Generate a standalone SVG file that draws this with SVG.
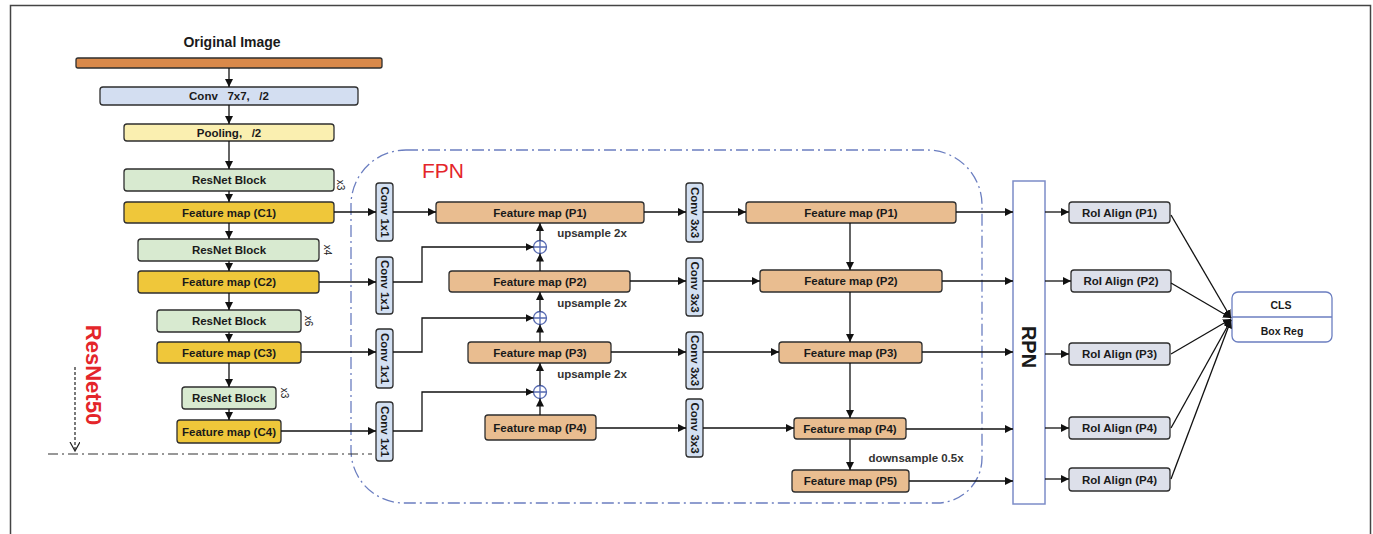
<svg xmlns="http://www.w3.org/2000/svg" width="1373" height="534" viewBox="0 0 1373 534">
<style>
text{font-family:"Liberation Sans",Arial,sans-serif;font-weight:bold;fill:#1a1a1a;text-anchor:middle;dominant-baseline:central}
.b{stroke:#2e2e2e;stroke-width:1.3}
.c7{fill:#D3DEF1}.pl{fill:#FAEFB0}.rb{fill:#D8EAD0}.fc{fill:#EFC73A}.cv{fill:#D3E0F2}.fp{fill:#E9BD90}.roi{fill:#DDE0EA}
.t{font-size:11.5px}
.pre{white-space:pre}
.s{font-size:11.5px}
.x{font-size:10px;font-weight:normal}
.hd{font-size:10.5px}
.lbl{font-size:11.5px;fill:#333}
.ln{fill:none;stroke:#111;stroke-width:1.3}
.red{fill:#E4252A;font-weight:normal}
</style>
<defs>
<marker id="ah" markerUnits="userSpaceOnUse" markerWidth="10" markerHeight="10" refX="8" refY="4" orient="auto">
<path d="M0,0 L8,4 L0,8 Z" fill="#111"/>
</marker>
<marker id="oh" markerUnits="userSpaceOnUse" markerWidth="12" markerHeight="12" refX="9" refY="5" orient="auto">
<path d="M0,0 L9,5 L0,10" fill="none" stroke="#222" stroke-width="1.2"/>
</marker>
</defs>
<rect width="1373" height="534" fill="#fff"/>
<rect x="10.5" y="5.5" width="1360" height="560" fill="none" stroke="#444" stroke-width="1.5"/>

<g id="fpn-region">
<path d="M406,150 H927 A55,55 0 0 1 982,205 V458 A45,45 0 0 1 937,503 H404 A53,53 0 0 1 351,450 V205 A55,55 0 0 1 406,150 Z" fill="none" stroke="#6B7EC0" stroke-width="1.3" stroke-dasharray="12 4 2 4"/>
<text x="443" y="170" class="red" style="font-size:21px">FPN</text>
</g>

<g id="resnet-label">
<text transform="translate(93,375) rotate(90)" class="red" style="font-size:22px;font-weight:bold">ResNet50</text>
<line x1="75" y1="367" x2="75" y2="451" stroke="#222" stroke-width="1.2" stroke-dasharray="3 2" marker-end="url(#oh)"/>
<line x1="48" y1="454" x2="372" y2="454" stroke="#333" stroke-width="1.2" stroke-dasharray="10 4 2 4"/>
</g>

<g id="original-image">
<text x="232" y="42" style="font-size:14px">Original Image</text>
<rect x="76" y="58" width="306" height="10" rx="2" fill="#D9894A" class="b"/>
</g>
<g id="conv7"><rect x="100" y="87" width="258" height="18" rx="3" class="b c7"/><text x="229" y="96" class="t pre">Conv   7x7,   /2</text></g>
<g id="pool"><rect x="124" y="124" width="210" height="17" rx="3" class="b pl"/><text x="229" y="132.5" class="t pre">Pooling,   /2</text></g>
<g id="rb1"><rect x="124" y="169" width="210" height="22" rx="3" class="b rb"/><text x="229" y="180" class="t">ResNet Block</text><text transform="translate(340,185) rotate(90)" class="x">x3</text></g>
<g id="c1"><rect x="124" y="202" width="210" height="21" rx="3" class="b fc"/><text x="229" y="212.5" class="t">Feature map (C1)</text></g>
<g id="rb2"><rect x="138" y="239" width="181" height="22" rx="3" class="b rb"/><text x="229" y="250" class="t">ResNet Block</text><text transform="translate(327,250) rotate(90)" class="x">x4</text></g>
<g id="c2"><rect x="138" y="271" width="181" height="22" rx="3" class="b fc"/><text x="229" y="282" class="t">Feature map (C2)</text></g>
<g id="rb3"><rect x="157" y="310" width="144" height="22" rx="3" class="b rb"/><text x="229" y="321" class="t">ResNet Block</text><text transform="translate(308,321) rotate(90)" class="x">x6</text></g>
<g id="c3"><rect x="157" y="342" width="144" height="21" rx="3" class="b fc"/><text x="229" y="352.5" class="t">Feature map (C3)</text></g>
<g id="rb4"><rect x="182" y="387" width="94" height="22" rx="3" class="b rb"/><text x="229" y="398" class="t">ResNet Block</text><text transform="translate(284,393) rotate(90)" class="x">x3</text></g>
<g id="c4"><rect x="177" y="420" width="104" height="23" rx="3" class="b fc"/><text x="229" y="431.5" class="t">Feature map (C4)</text></g>

<g id="conv1x1-1"><rect x="376" y="183" width="17" height="58" rx="3" class="b cv"/><text transform="translate(384.5,212) rotate(90)" class="s">Conv 1x1</text></g>
<g id="conv1x1-2"><rect x="376" y="257" width="17" height="57" rx="3" class="b cv"/><text transform="translate(384.5,285.5) rotate(90)" class="s">Conv 1x1</text></g>
<g id="conv1x1-3"><rect x="376" y="329" width="17" height="59" rx="3" class="b cv"/><text transform="translate(384.5,358.5) rotate(90)" class="s">Conv 1x1</text></g>
<g id="conv1x1-4"><rect x="376" y="402" width="17" height="59" rx="3" class="b cv"/><text transform="translate(384.5,431.5) rotate(90)" class="s">Conv 1x1</text></g>

<g id="p1a"><rect x="436" y="202" width="208" height="21" rx="3" class="b fp"/><text x="540" y="212.5" class="t">Feature map (P1)</text></g>
<g id="p2a"><rect x="449" y="271" width="181" height="21" rx="3" class="b fp"/><text x="540" y="281.5" class="t">Feature map (P2)</text></g>
<g id="p3a"><rect x="468" y="342" width="143" height="21" rx="3" class="b fp"/><text x="540" y="352.5" class="t">Feature map (P3)</text></g>
<g id="p4a"><rect x="485" y="415" width="111" height="25" rx="3" class="b fp"/><text x="540" y="427.5" class="t">Feature map (P4)</text></g>

<g id="add1"><circle cx="540" cy="247" r="6.5" fill="#fff" stroke="#5468B0" stroke-width="1.3"/><path d="M533.5,247 H546.5 M540,240.5 V253.5" stroke="#5468B0" stroke-width="1.3"/></g>
<g id="add2"><circle cx="540" cy="318" r="6.5" fill="#fff" stroke="#5468B0" stroke-width="1.3"/><path d="M533.5,318 H546.5 M540,311.5 V324.5" stroke="#5468B0" stroke-width="1.3"/></g>
<g id="add3"><circle cx="540" cy="392" r="6.5" fill="#fff" stroke="#5468B0" stroke-width="1.3"/><path d="M533.5,392 H546.5 M540,385.5 V398.5" stroke="#5468B0" stroke-width="1.3"/></g>
<text x="592" y="233" class="lbl">upsample 2x</text>
<text x="592" y="303" class="lbl">upsample 2x</text>
<text x="592" y="374" class="lbl">upsample 2x</text>

<g id="conv3x3-1"><rect x="686" y="183" width="17" height="59" rx="3" class="b cv"/><text transform="translate(694.5,212.5) rotate(90)" class="s">Conv 3x3</text></g>
<g id="conv3x3-2"><rect x="686" y="258" width="17" height="58" rx="3" class="b cv"/><text transform="translate(694.5,287) rotate(90)" class="s">Conv 3x3</text></g>
<g id="conv3x3-3"><rect x="686" y="332" width="17" height="57" rx="3" class="b cv"/><text transform="translate(694.5,360.5) rotate(90)" class="s">Conv 3x3</text></g>
<g id="conv3x3-4"><rect x="686" y="399" width="17" height="58" rx="3" class="b cv"/><text transform="translate(694.5,428) rotate(90)" class="s">Conv 3x3</text></g>

<g id="p1b"><rect x="746" y="202" width="210" height="21" rx="3" class="b fp"/><text x="851" y="212.5" class="t">Feature map (P1)</text></g>
<g id="p2b"><rect x="760" y="270" width="182" height="22" rx="3" class="b fp"/><text x="851" y="281" class="t">Feature map (P2)</text></g>
<g id="p3b"><rect x="779" y="342" width="143" height="21" rx="3" class="b fp"/><text x="850.5" y="352.5" class="t">Feature map (P3)</text></g>
<g id="p4b"><rect x="794" y="418" width="112" height="21" rx="3" class="b fp"/><text x="850" y="428.5" class="t">Feature map (P4)</text></g>
<g id="p5"><rect x="792" y="470" width="117" height="22" rx="3" class="b fp"/><text x="850.5" y="481" class="t">Feature map (P5)</text></g>
<text x="916" y="458" class="lbl">downsample 0.5x</text>

<g id="rpn"><rect x="1013" y="181" width="32" height="323" fill="#fff" stroke="#7C8CC8" stroke-width="1.5"/><text transform="translate(1029,347) rotate(90)" style="font-size:20px">RPN</text></g>

<g id="roi1"><rect x="1069" y="202" width="101" height="21" rx="3" class="b roi"/><text x="1119.5" y="212.5" class="t">RoI Align (P1)</text></g>
<g id="roi2"><rect x="1071" y="270" width="100" height="22" rx="3" class="b roi"/><text x="1121" y="281" class="t">RoI Align (P2)</text></g>
<g id="roi3"><rect x="1069" y="343" width="101" height="22" rx="3" class="b roi"/><text x="1119.5" y="354" class="t">RoI Align (P3)</text></g>
<g id="roi4"><rect x="1069" y="417" width="101" height="22" rx="3" class="b roi"/><text x="1119.5" y="428" class="t">RoI Align (P4)</text></g>
<g id="roi5"><rect x="1069" y="468" width="101" height="23" rx="3" class="b roi"/><text x="1119.5" y="479.5" class="t">RoI Align (P4)</text></g>

<g id="head"><rect x="1232" y="292" width="100" height="50" rx="6" fill="#fff" stroke="#6B7EC0" stroke-width="1.3"/><line x1="1232" y1="317" x2="1332" y2="317" stroke="#6B7EC0" stroke-width="1.3"/><text x="1281" y="305" class="hd">CLS</text><text x="1282" y="331" class="hd">Box Reg</text></g>

<g id="connectors" class="ln">
<path d="M229,68 V87" marker-end="url(#ah)"/>
<path d="M229,105 V124" marker-end="url(#ah)"/>
<path d="M229,141 V169" marker-end="url(#ah)"/>
<path d="M229,191 V202" marker-end="url(#ah)"/>
<path d="M229,223 V239" marker-end="url(#ah)"/>
<path d="M229,261 V271" marker-end="url(#ah)"/>
<path d="M229,293 V310" marker-end="url(#ah)"/>
<path d="M229,332 V342" marker-end="url(#ah)"/>
<path d="M229,363 V387" marker-end="url(#ah)"/>
<path d="M229,409 V420" marker-end="url(#ah)"/>
<path d="M334,212 H376" marker-end="url(#ah)"/>
<path d="M319,282 H376" marker-end="url(#ah)"/>
<path d="M301,352 H376" marker-end="url(#ah)"/>
<path d="M281,431 H376" marker-end="url(#ah)"/>
<path d="M393,212 H436" marker-end="url(#ah)"/>
<path d="M393,282 H422 V247 H533.5" marker-end="url(#ah)"/>
<path d="M393,352 H422 V318 H533.5" marker-end="url(#ah)"/>
<path d="M393,431 H422 V392 H533.5" marker-end="url(#ah)"/>
<path d="M540,271 V253.5" marker-end="url(#ah)"/>
<path d="M540,240.5 V223" marker-end="url(#ah)"/>
<path d="M540,342 V324.5" marker-end="url(#ah)"/>
<path d="M540,311.5 V292" marker-end="url(#ah)"/>
<path d="M540,415 V398.5" marker-end="url(#ah)"/>
<path d="M540,385.5 V363" marker-end="url(#ah)"/>
<path d="M644,212 H686" marker-end="url(#ah)"/>
<path d="M630,281 H686" marker-end="url(#ah)"/>
<path d="M611,352 H686" marker-end="url(#ah)"/>
<path d="M596,428 H686" marker-end="url(#ah)"/>
<path d="M703,212 H746" marker-end="url(#ah)"/>
<path d="M703,281 H760" marker-end="url(#ah)"/>
<path d="M703,352 H779" marker-end="url(#ah)"/>
<path d="M703,428 H794" marker-end="url(#ah)"/>
<path d="M850,223 V270" marker-end="url(#ah)"/>
<path d="M850,292 V342" marker-end="url(#ah)"/>
<path d="M850,363 V418" marker-end="url(#ah)"/>
<path d="M850,439 V470" marker-end="url(#ah)"/>
<path d="M956,212 H1013" marker-end="url(#ah)"/>
<path d="M942,281 H1013" marker-end="url(#ah)"/>
<path d="M922,352 H1013" marker-end="url(#ah)"/>
<path d="M906,429 H1013" marker-end="url(#ah)"/>
<path d="M909,481 H1013" marker-end="url(#ah)"/>
<path d="M1045,212 H1069" marker-end="url(#ah)"/>
<path d="M1045,281 H1071" marker-end="url(#ah)"/>
<path d="M1045,354 H1069" marker-end="url(#ah)"/>
<path d="M1045,428 H1069" marker-end="url(#ah)"/>
<path d="M1045,479 H1069" marker-end="url(#ah)"/>
<path d="M1171,215 L1231,318" marker-end="url(#ah)"/>
<path d="M1171,283 L1231,318" marker-end="url(#ah)"/>
<path d="M1171,354 L1231,319" marker-end="url(#ah)"/>
<path d="M1171,428 L1231,320" marker-end="url(#ah)"/>
<path d="M1171,479 L1231,320" marker-end="url(#ah)"/>
</g>
</svg>
